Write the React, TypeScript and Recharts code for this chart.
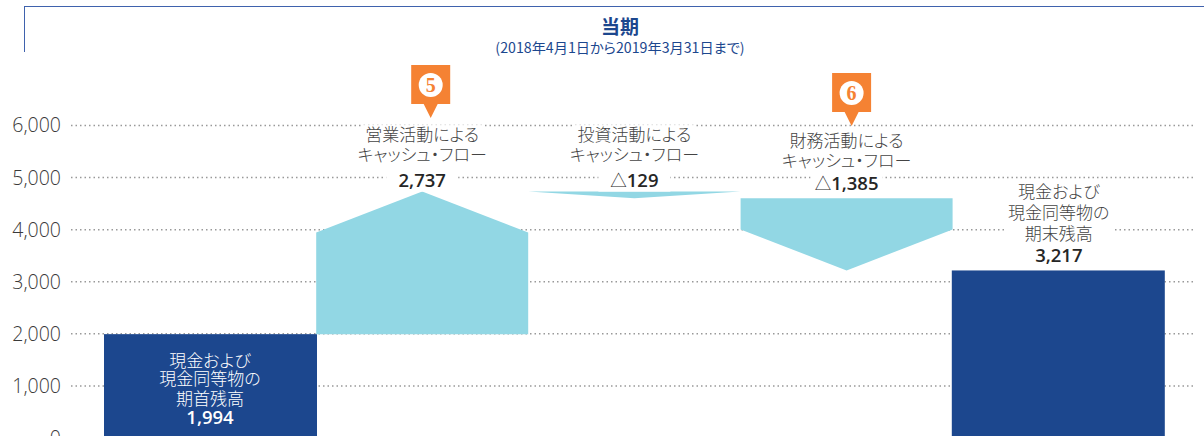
import { Bar, CartesianGrid, ComposedChart, LabelList, XAxis, YAxis } from "recharts";

const categories = ["期首残高", "営業活動", "投資活動", "財務活動", "期末残高"];
const lows = [0, 1994, 4602, 3217, 0];
const highs = [1994, 4731, 4731, 4602, 3217];
const kinds = ["balance", "flow", "flow", "flow", "balance"];
const labelLines = [
  ["現金および", "現金同等物の", "期首残高"],
  ["営業活動による", "キャッシュ・フロー"],
  ["投資活動による", "キャッシュ・フロー"],
  ["財務活動による", "キャッシュ・フロー"],
  ["現金および", "現金同等物の", "期末残高"],
];
const labelValues = ["1,994", "2,737", "△129", "△1,385", "3,217"];
const yTicks = [0, 1000, 2000, 3000, 4000, 5000, 6000];

const data = categories.map((name, i) => ({
  name,
  range: [lows[i], highs[i]],
  kind: kinds[i],
}));

const FONT = '"Noto Sans CJK JP", "Noto Sans", sans-serif';
const NUM_FONT = '"Open Sans", "Noto Sans", sans-serif';
const NAVY = "#1c478e";
const LIGHT = "#92d7e4";
const ORANGE = "#f58233";
const ARROW_HEAD = 41;

// text line centres, measured from the top of each bar
const LINE_OFFSETS = [
  [27, 45, 65, 84],
  [-56.5, -36.5, -11],
  [-56.5, -36.5, -11],
  [-56.5, -36.5, -14],
  [-77.5, -57, -36, -14.5],
];
// half widths of the white patches that break the grid behind the labels
const VALUE_PATCH = 36;
const LINE_PATCH = [0, 61, 61, 61, 54];

// callouts sit above two of the flow bars
const CALLOUTS: Record<number, { mark: string; dx: number; top: number }> = {
  1: { mark: "5", dx: 8.5, top: 65 },
  3: { mark: "6", dx: 5, top: 73 },
};

const WaterfallShape = (props: any) => {
  const { x, y, width, height, index } = props;
  if (kinds[index] === "balance") {
    // the dark bars overlap their light neighbour by a pixel
    return <rect x={index === 0 ? x : x - 1} y={y} width={width + 1} height={height} fill={NAVY} />;
  }
  const head = Math.min(ARROW_HEAD, height);
  const mid = x + width / 2;
  const r = x + width;
  const b = y + height;
  // operating cash flow points up, the other two point down
  const pts =
    index === 1
      ? [[mid, y], [r, y + head], [r, b], [x, b], [x, y + head]]
      : [[x, y], [r, y], [r, b - head], [mid, b], [x, b - head]];
  return <polygon points={pts.map((p) => p.join(",")).join(" ")} fill={LIGHT} />;
};

const splitTriangle = (s: string) => (s.startsWith("△") ? ["△", s.slice(1)] : ["", s]);

const BarLabel = (props: any) => {
  const { x, y, width, index } = props;
  const cx = x + width / 2;
  const lines = labelLines[index];
  const offsets = LINE_OFFSETS[index];
  const inside = index === 0;
  const color = inside ? "#ffffff" : "#444444";
  const numColor = inside ? "#ffffff" : "#262626";
  const [tri, num] = splitTriangle(labelValues[index]);
  const callout = CALLOUTS[index];
  const valueY = y + offsets[lines.length];
  return (
    <g textAnchor="middle">
      {!inside &&
        lines.map((l, i) => (
          <rect
            key={l}
            x={cx - LINE_PATCH[index]}
            y={y + offsets[i] - 10}
            width={LINE_PATCH[index] * 2}
            height={21}
            fill="#fff"
          />
        ))}
      {!inside && <rect x={cx - VALUE_PATCH} y={valueY - 10} width={VALUE_PATCH * 2} height={21} fill="#fff" />}
      {lines.map((l, i) => (
        <text
          key={l}
          x={cx}
          y={y + offsets[i]}
          dy={5.5}
          fontFamily={FONT}
          fontSize={17}
          fontWeight={300}
          fill={color}
          style={{ fontFeatureSettings: '"palt"' }}
        >
          {l}
        </text>
      ))}
      <text x={cx} y={valueY} dy={6} fill={numColor}>
        {tri && (
          <tspan fontFamily={FONT} fontSize={16.5} fontWeight={300}>
            {tri}
          </tspan>
        )}
        <tspan fontFamily={NUM_FONT} fontSize={18.5} fontWeight={600}>
          {num}
        </tspan>
      </text>
      {callout && (
        <g>
          <rect x={cx + callout.dx - 19.5} y={callout.top} width={39} height={39} fill={ORANGE} />
          <polygon
            points={`${cx + callout.dx - 7},${callout.top + 39} ${cx + callout.dx + 7},${callout.top + 39} ${cx + callout.dx},${callout.top + 53}`}
            fill={ORANGE}
          />
          <circle cx={cx + callout.dx} cy={callout.top + 20} r={12} fill="#fff" />
          <text
            x={cx + callout.dx}
            y={callout.top + 20}
            dy={7}
            fontFamily='"Liberation Serif", serif'
            fontWeight={700}
            fontSize={20}
            fill={ORANGE}
          >
            {callout.mark}
          </text>
        </g>
      )}
    </g>
  );
};

export default function App() {
  return (
    <div style={{ position: "fixed", left: 0, top: 0, width: 1204, height: 436, overflow: "hidden", background: "#fff" }}>
      <div
        style={{
          position: "absolute",
          left: 24,
          top: 6,
          width: 1180,
          height: 45,
          borderTop: "1px solid #3f62ad",
          borderLeft: "1px solid #3f62ad",
        }}
      />
      <div
        style={{
          position: "absolute",
          left: 0,
          width: 1240,
          top: 14,
          textAlign: "center",
          fontFamily: FONT,
          fontSize: 19,
          fontWeight: 700,
          lineHeight: "24px",
          color: NAVY,
        }}
      >
        当期
      </div>
      <div
        style={{
          position: "absolute",
          left: 0,
          width: 1240,
          top: 38,
          textAlign: "center",
          fontFamily: FONT,
          fontSize: 14.2,
          fontWeight: 400,
          lineHeight: "18px",
          color: NAVY,
          fontFeatureSettings: '"palt"',
        }}
      >
        (2018年4月1日から2019年3月31日まで)
      </div>
      <div style={{ position: "absolute", left: 0, top: 0 }}>
        <ComposedChart
          width={1204}
          height={460}
          data={data}
          barCategoryGap={0}
          margin={{ top: 125.5, right: 10, bottom: 22, left: 0 }}
        >
          <CartesianGrid vertical={false} stroke="#999999" strokeWidth={1.5} strokeDasharray="1.5 3" />
          <XAxis dataKey="name" hide padding={{ left: 33, right: 29 }} />
          <YAxis
            width={71}
            domain={[0, 6000]}
            ticks={yTicks}
            tickFormatter={(v) => v.toLocaleString("en-US")}
            axisLine={false}
            tickLine={false}
            tickSize={0}
            tickMargin={10}
            tick={{ fontFamily: NUM_FONT, fontSize: 19.5, fontWeight: 300, fill: "#3a3a3a" }}
          />
          <Bar dataKey="range" shape={WaterfallShape} isAnimationActive={false}>
            <LabelList dataKey="name" content={BarLabel} />
          </Bar>
        </ComposedChart>
      </div>
    </div>
  );
}
